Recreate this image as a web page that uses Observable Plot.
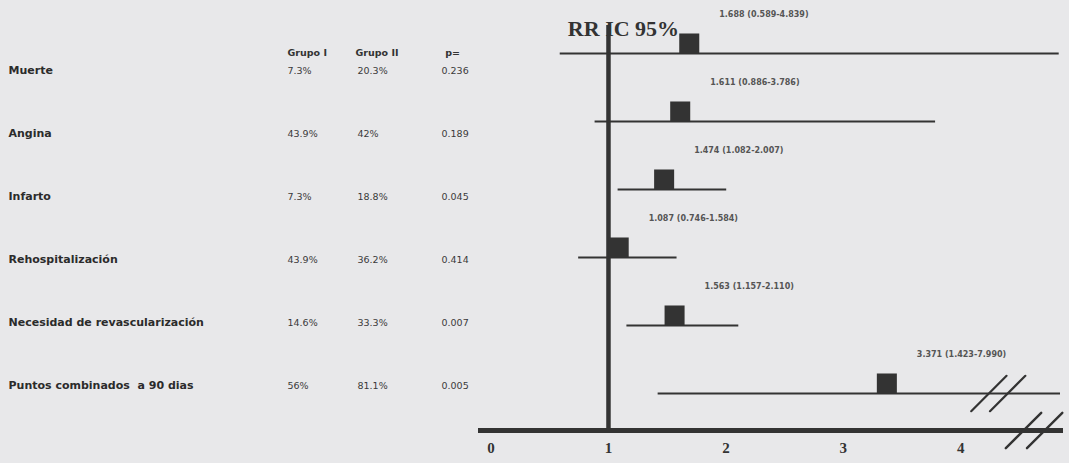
<!DOCTYPE html>
<html>
<head>
<meta charset="utf-8">
<script src="https://cdn.jsdelivr.net/npm/d3@7"></script>
<script src="https://cdn.jsdelivr.net/npm/@observablehq/plot@0.6"></script>
<style>
  html, body { margin: 0; padding: 0; background: #e8e8ea; }
  #chart { display: flex; width: 1069px; height: 463px; overflow: hidden; }
  #chart svg { background: transparent; display: block; }
</style>
</head>
<body>
<div id="chart"></div>
<script>
// Outcomes and group frequencies
const outcomes = [
  "Muerte",
  "Angina",
  "Infarto",
  "Rehospitalización",
  "Necesidad de revascularización",
  "Puntos combinados\u00a0 a 90 dias"
];
const grupoI = ["7.3%", "43.9%", "7.3%", "43.9%", "14.6%", "56%"];
const grupoII = ["20.3%", "42%", "18.8%", "36.2%", "33.3%", "81.1%"];
const pValues = ["0.236", "0.189", "0.045", "0.414", "0.007", "0.005"];
const headers = ["Grupo I", "Grupo II", "p="];

// Relative risk with 95% confidence interval
const rr = [1.688, 1.611, 1.474, 1.087, 1.563, 3.371];
const ciLow = [0.589, 0.886, 1.082, 0.746, 1.157, 1.423];
const ciHigh = [4.839, 3.786, 2.007, 1.584, 2.110, 7.990];

const xTicks = [0, 1, 2, 3, 4];
const xDomain = [-0.09, 4.85];

// Axis breaks: one on the truncated interval, one on the x axis
const rowBreaks = [4.24, 4.40];
const axisBreaks = [4.535, 4.715];

const rows = outcomes.map((name, i) => ({
  name, g1: grupoI[i], g2: grupoII[i], p: pValues[i],
  rr: rr[i], lo: ciLow[i], hi: ciHigh[i]
}));

const f3 = d3.format(".3f");
const ink = "#333";
const sans = "DejaVu Sans";
const serif = "Liberation Serif";

// Column offsets within the table
const colDx = {label: 8, g1: 287, g2: 357, p: 441};
const headerDx = [287, 355, 452];
const headerAnchor = ["start", "start", "middle"];

// Left-hand table
const table = Plot.plot({
  width: 470,
  height: 463,
  margin: 0,
  y: {type: "point", domain: outcomes, range: [68, 387], padding: 0, axis: null},
  marks: [
    ...headers.map((h, i) => Plot.text([h], {
      y: () => outcomes[0], frameAnchor: "left", dx: headerDx[i], dy: -18, text: d => d,
      textAnchor: headerAnchor[i], fontFamily: sans, fontWeight: "bold", fontSize: 9.5, fill: ink
    })),
    Plot.text(rows, {y: "name", text: "name", frameAnchor: "left", dx: colDx.label, textAnchor: "start",
      fontFamily: sans, fontWeight: "bold", fontSize: 11, fill: "#2b2b2b"}),
    Plot.text(rows, {y: "name", text: "g1", frameAnchor: "left", dx: colDx.g1, textAnchor: "start",
      fontFamily: sans, fontSize: 9.5, fill: "#3a3a3a"}),
    Plot.text(rows, {y: "name", text: "g2", frameAnchor: "left", dx: colDx.g2, textAnchor: "start",
      fontFamily: sans, fontSize: 9.5, fill: "#3a3a3a"}),
    Plot.text(rows, {y: "name", text: "p", frameAnchor: "left", dx: colDx.p, textAnchor: "start",
      fontFamily: sans, fontSize: 9.5, fill: "#3a3a3a"})
  ]
});

// Forest plot
const forest = Plot.plot({
  width: 599,
  height: 463,
  marginLeft: 10,
  marginRight: 9,
  marginTop: 25,
  marginBottom: 33,
  x: {domain: xDomain, axis: null},
  y: {type: "point", domain: outcomes, range: [52, 394], padding: 0, axis: null},
  marks: [
    Plot.frame({anchor: "bottom", stroke: ink, strokeWidth: 5}),
    Plot.ruleX([1], {stroke: ink, strokeWidth: 4.5}),
    Plot.ruleY(rows, {y: "name", x1: "lo", x2: d => Math.min(d.hi, xDomain[1]), stroke: ink, strokeWidth: 2.2}),
    Plot.dot(rows, {x: "rr", y: "name", symbol: "square", r: 11.3, fill: ink, stroke: "none", dy: -10}),
    Plot.text(rows, {
      x: "rr", y: "name", text: d => `${f3(d.rr)} (${f3(d.lo)}-${f3(d.hi)})`,
      dx: 30, dy: -39, textAnchor: "start",
      fontFamily: sans, fontWeight: "bold", fontSize: 8, fill: "#555"
    }),
    Plot.vector(rowBreaks, {
      x: d => d, y: () => outcomes[5], length: 50, rotate: 45, anchor: "middle",
      shape: "arrow", r: 0, stroke: ink, strokeWidth: 2.2
    }),
    Plot.vector(axisBreaks, {
      x: d => d, frameAnchor: "bottom", length: 50, rotate: 45, anchor: "middle",
      shape: "arrow", r: 0, stroke: ink, strokeWidth: 2.4
    }),
    Plot.axisX({
      ticks: xTicks, tickSize: 0, tickPadding: 12, tickFormat: d3.format("d"),
      fontFamily: serif, fontWeight: "bold", fontSize: 15, color: ink
    }),
    Plot.text(["RR IC 95%"], {
      x: () => 1, frameAnchor: "top", dx: 15, dy: -5, text: d => d,
      fontFamily: serif, fontWeight: "bold", fontSize: 22, fill: ink
    })
  ]
});

document.getElementById("chart").append(table, forest);
</script>
</body>
</html>
